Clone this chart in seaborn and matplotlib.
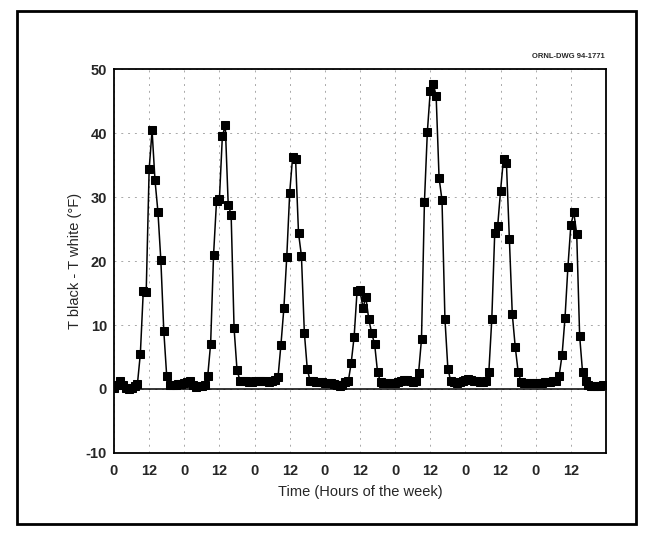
import numpy as np
import pandas as pd
import matplotlib
matplotlib.use("Agg")
import matplotlib.pyplot as plt
import matplotlib.patches as mpatches
import seaborn as sns

# Hourly temperature difference (T black - T white, deg F), one list per day
day1 = [0.2, 0.6, 1.2, 0.6, 0.1, 0.0, 0.2, 0.4, 0.8, 5.5, 15.3, 15.2, 34.3, 40.4, 32.6, 27.7, 20.1, 9.1, 2.0, 0.6, 0.7, 0.7, 0.8, 0.8]
day2 = [0.9, 1.1, 1.2, 0.6, 0.3, 0.4, 0.5, 0.6, 2.0, 7.1, 21.0, 29.3, 29.7, 39.5, 41.2, 28.8, 27.2, 9.5, 3.0, 1.3, 1.2, 1.2, 1.1, 1.1]
day3 = [1.2, 1.2, 1.3, 1.2, 1.2, 1.1, 1.2, 1.4, 1.8, 6.9, 12.6, 20.7, 30.7, 36.3, 36.0, 24.4, 20.8, 8.8, 3.1, 1.2, 1.2, 1.1, 1.1, 1.1]
day4 = [1.0, 1.0, 0.9, 0.8, 0.6, 0.5, 0.7, 1.1, 1.2, 4.1, 8.2, 15.3, 15.4, 12.7, 14.3, 10.9, 8.7, 7.0, 2.6, 1.1, 0.9, 0.9, 1.0, 1.0]
day5 = [1.0, 1.1, 1.2, 1.4, 1.4, 1.2, 1.1, 1.3, 2.5, 7.8, 29.2, 40.2, 46.6, 47.7, 45.8, 33.0, 29.5, 11.0, 3.2, 1.2, 1.1, 1.0, 1.1, 1.3]
day6 = [1.4, 1.6, 1.4, 1.2, 1.2, 1.1, 1.1, 1.3, 2.7, 10.9, 24.3, 25.4, 31.0, 36.0, 35.3, 23.5, 11.7, 6.6, 2.7, 1.1, 1.0, 0.9, 0.9, 0.9]
day7 = [1.0, 1.0, 1.0, 1.1, 1.1, 1.1, 1.2, 1.3, 2.1, 5.3, 11.1, 19.1, 25.6, 27.6, 24.2, 8.3, 2.6, 1.3, 0.6, 0.4, 0.4, 0.4, 0.5, 0.7]

y_ticks = [-10, 0, 10, 20, 30, 40, 50]
x_tick_hours = [0, 12, 24, 36, 48, 60, 72, 84, 96, 108, 120, 132, 144, 156]
x_tick_labels = ["0", "12", "0", "12", "0", "12", "0", "12", "0", "12", "0", "12", "0", "12"]

values = day1 + day2 + day3 + day4 + day5 + day6 + day7
hours = np.arange(len(values))
df = pd.DataFrame({"hour": hours, "dT": values})

sns.set_style("white")
plt.rcParams["font.family"] = ["Liberation Sans", "DejaVu Sans"]

fig = plt.figure(figsize=(6.52, 5.36), dpi=100)
ax = fig.add_axes([114 / 652, 1 - 453 / 536, (606 - 114) / 652, (453 - 69) / 536])

ax.axhline(0, color="black", lw=1.1, zorder=1)
sns.lineplot(data=df, x="hour", y="dT", ax=ax, color="black", lw=1.1,
             marker="s", markersize=6, markeredgecolor="black",
             markerfacecolor="black", zorder=3)

ax.set_xlim(0, 168)
ax.set_ylim(-10, 50)
ax.set_yticks(y_ticks)
ax.set_yticklabels([str(v) for v in y_ticks], fontsize=10.5, fontweight="bold")
ax.set_xticks(x_tick_hours)
ax.set_xticklabels(x_tick_labels, fontsize=10.5, fontweight="bold")
ax.tick_params(axis="both", length=0)
ax.tick_params(axis="y", pad=5)
ax.tick_params(axis="x", pad=8)

ax.grid(True, color="#a8a8a8", lw=0.7, linestyle=(0, (2, 5)))
for s in ax.spines.values():
    s.set_color("black")
    s.set_linewidth(1.3)

ax.set_xlabel("Time (Hours of the week)", fontsize=10.5, labelpad=5)
ax.set_ylabel("T black - T white (°F)", fontsize=10.5, labelpad=3)

fig.text(605 / 652, 1 - 57 / 536, "ORNL-DWG 94-1771", fontsize=5.5,
         fontweight="bold", ha="right", va="center")

border = mpatches.Rectangle((17 / 652, 1 - 524 / 536), (636 - 17) / 652, (524 - 11) / 536,
                            transform=fig.transFigure, fill=False, lw=2, ec="black")
fig.patches.append(border)

fig.savefig("out.png", dpi=100)
